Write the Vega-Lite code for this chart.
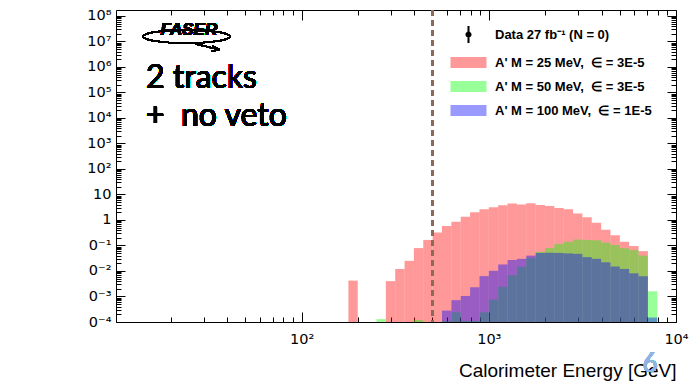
{
  "$schema": "https://vega.github.io/schema/vega-lite/v6.json",
  "width": 560,
  "height": 312,
  "autosize": {"type": "none"},
  "padding": {"left": 116, "top": 10, "right": 16, "bottom": 60},
  "background": "white",
  "config": {
    "view": {"stroke": "black", "strokeWidth": 1},
    "axis": {
      "grid": false,
      "domain": false,
      "tickColor": "black",
      "labelFont": "DejaVu Sans",
      "labelFontSize": 14.5,
      "labelColor": "black",
      "titleFont": "Liberation Sans",
      "titleFontWeight": "normal",
      "titleColor": "black",
      "labelAngle": 0
    }
  },
  "data": {
    "values": [
      {"series": "A' M = 25 MeV,\u00a0 ∈ = 3E-5", "lo": 177.83, "hi": 199.53, "v": 0.0042},
      {"series": "A' M = 25 MeV,\u00a0 ∈ = 3E-5", "lo": 281.84, "hi": 316.23, "v": 0.004},
      {"series": "A' M = 25 MeV,\u00a0 ∈ = 3E-5", "lo": 316.23, "hi": 354.81, "v": 0.012},
      {"series": "A' M = 25 MeV,\u00a0 ∈ = 3E-5", "lo": 354.81, "hi": 398.11, "v": 0.025},
      {"series": "A' M = 25 MeV,\u00a0 ∈ = 3E-5", "lo": 398.11, "hi": 446.68, "v": 0.079},
      {"series": "A' M = 25 MeV,\u00a0 ∈ = 3E-5", "lo": 446.68, "hi": 501.19, "v": 0.165},
      {"series": "A' M = 25 MeV,\u00a0 ∈ = 3E-5", "lo": 501.19, "hi": 562.34, "v": 0.32},
      {"series": "A' M = 25 MeV,\u00a0 ∈ = 3E-5", "lo": 562.34, "hi": 630.96, "v": 0.58},
      {"series": "A' M = 25 MeV,\u00a0 ∈ = 3E-5", "lo": 630.96, "hi": 707.95, "v": 0.85},
      {"series": "A' M = 25 MeV,\u00a0 ∈ = 3E-5", "lo": 707.95, "hi": 794.33, "v": 1.35},
      {"series": "A' M = 25 MeV,\u00a0 ∈ = 3E-5", "lo": 794.33, "hi": 891.25, "v": 2.0},
      {"series": "A' M = 25 MeV,\u00a0 ∈ = 3E-5", "lo": 891.25, "hi": 1000, "v": 2.6},
      {"series": "A' M = 25 MeV,\u00a0 ∈ = 3E-5", "lo": 1000, "hi": 1122.0, "v": 3.15},
      {"series": "A' M = 25 MeV,\u00a0 ∈ = 3E-5", "lo": 1122.0, "hi": 1258.9, "v": 3.8},
      {"series": "A' M = 25 MeV,\u00a0 ∈ = 3E-5", "lo": 1258.9, "hi": 1412.5, "v": 4.4},
      {"series": "A' M = 25 MeV,\u00a0 ∈ = 3E-5", "lo": 1412.5, "hi": 1584.9, "v": 4.0},
      {"series": "A' M = 25 MeV,\u00a0 ∈ = 3E-5", "lo": 1584.9, "hi": 1778.3, "v": 4.5},
      {"series": "A' M = 25 MeV,\u00a0 ∈ = 3E-5", "lo": 1778.3, "hi": 1995.3, "v": 3.9},
      {"series": "A' M = 25 MeV,\u00a0 ∈ = 3E-5", "lo": 1995.3, "hi": 2238.7, "v": 3.5},
      {"series": "A' M = 25 MeV,\u00a0 ∈ = 3E-5", "lo": 2238.7, "hi": 2511.9, "v": 2.95},
      {"series": "A' M = 25 MeV,\u00a0 ∈ = 3E-5", "lo": 2511.9, "hi": 2818.4, "v": 2.6},
      {"series": "A' M = 25 MeV,\u00a0 ∈ = 3E-5", "lo": 2818.4, "hi": 3162.3, "v": 1.8},
      {"series": "A' M = 25 MeV,\u00a0 ∈ = 3E-5", "lo": 3162.3, "hi": 3548.1, "v": 1.27},
      {"series": "A' M = 25 MeV,\u00a0 ∈ = 3E-5", "lo": 3548.1, "hi": 3981.1, "v": 0.78},
      {"series": "A' M = 25 MeV,\u00a0 ∈ = 3E-5", "lo": 3981.1, "hi": 4466.8, "v": 0.41},
      {"series": "A' M = 25 MeV,\u00a0 ∈ = 3E-5", "lo": 4466.8, "hi": 5011.9, "v": 0.25},
      {"series": "A' M = 25 MeV,\u00a0 ∈ = 3E-5", "lo": 5011.9, "hi": 5623.4, "v": 0.14},
      {"series": "A' M = 25 MeV,\u00a0 ∈ = 3E-5", "lo": 5623.4, "hi": 6309.6, "v": 0.095},
      {"series": "A' M = 25 MeV,\u00a0 ∈ = 3E-5", "lo": 6309.6, "hi": 7079.5, "v": 0.06},
      {"series": "A' M = 50 MeV,\u00a0 ∈ = 3E-5", "lo": 251.19, "hi": 281.84, "v": 0.00013},
      {"series": "A' M = 50 MeV,\u00a0 ∈ = 3E-5", "lo": 398.11, "hi": 446.68, "v": 0.00012},
      {"series": "A' M = 50 MeV,\u00a0 ∈ = 3E-5", "lo": 562.34, "hi": 630.96, "v": 0.00011},
      {"series": "A' M = 50 MeV,\u00a0 ∈ = 3E-5", "lo": 630.96, "hi": 707.95, "v": 0.00024},
      {"series": "A' M = 50 MeV,\u00a0 ∈ = 3E-5", "lo": 707.95, "hi": 794.33, "v": 0.00011},
      {"series": "A' M = 50 MeV,\u00a0 ∈ = 3E-5", "lo": 794.33, "hi": 891.25, "v": 0.00011},
      {"series": "A' M = 50 MeV,\u00a0 ∈ = 3E-5", "lo": 891.25, "hi": 1000, "v": 0.00024},
      {"series": "A' M = 50 MeV,\u00a0 ∈ = 3E-5", "lo": 1000, "hi": 1122.0, "v": 0.00075},
      {"series": "A' M = 50 MeV,\u00a0 ∈ = 3E-5", "lo": 1122.0, "hi": 1258.9, "v": 0.0024},
      {"series": "A' M = 50 MeV,\u00a0 ∈ = 3E-5", "lo": 1258.9, "hi": 1412.5, "v": 0.0068},
      {"series": "A' M = 50 MeV,\u00a0 ∈ = 3E-5", "lo": 1412.5, "hi": 1584.9, "v": 0.0145},
      {"series": "A' M = 50 MeV,\u00a0 ∈ = 3E-5", "lo": 1584.9, "hi": 1778.3, "v": 0.032},
      {"series": "A' M = 50 MeV,\u00a0 ∈ = 3E-5", "lo": 1778.3, "hi": 1995.3, "v": 0.056},
      {"series": "A' M = 50 MeV,\u00a0 ∈ = 3E-5", "lo": 1995.3, "hi": 2238.7, "v": 0.079},
      {"series": "A' M = 50 MeV,\u00a0 ∈ = 3E-5", "lo": 2238.7, "hi": 2511.9, "v": 0.115},
      {"series": "A' M = 50 MeV,\u00a0 ∈ = 3E-5", "lo": 2511.9, "hi": 2818.4, "v": 0.14},
      {"series": "A' M = 50 MeV,\u00a0 ∈ = 3E-5", "lo": 2818.4, "hi": 3162.3, "v": 0.17},
      {"series": "A' M = 50 MeV,\u00a0 ∈ = 3E-5", "lo": 3162.3, "hi": 3548.1, "v": 0.165},
      {"series": "A' M = 50 MeV,\u00a0 ∈ = 3E-5", "lo": 3548.1, "hi": 3981.1, "v": 0.16},
      {"series": "A' M = 50 MeV,\u00a0 ∈ = 3E-5", "lo": 3981.1, "hi": 4466.8, "v": 0.13},
      {"series": "A' M = 50 MeV,\u00a0 ∈ = 3E-5", "lo": 4466.8, "hi": 5011.9, "v": 0.105},
      {"series": "A' M = 50 MeV,\u00a0 ∈ = 3E-5", "lo": 5011.9, "hi": 5623.4, "v": 0.078},
      {"series": "A' M = 50 MeV,\u00a0 ∈ = 3E-5", "lo": 5623.4, "hi": 6309.6, "v": 0.066},
      {"series": "A' M = 50 MeV,\u00a0 ∈ = 3E-5", "lo": 6309.6, "hi": 7079.5, "v": 0.04},
      {"series": "A' M = 50 MeV,\u00a0 ∈ = 3E-5", "lo": 7079.5, "hi": 7943.3, "v": 0.0016},
      {"series": "A' M = 100 MeV,\u00a0 ∈ = 1E-5", "lo": 562.34, "hi": 630.96, "v": 0.00028},
      {"series": "A' M = 100 MeV,\u00a0 ∈ = 1E-5", "lo": 630.96, "hi": 707.95, "v": 0.00072},
      {"series": "A' M = 100 MeV,\u00a0 ∈ = 1E-5", "lo": 707.95, "hi": 794.33, "v": 0.00105},
      {"series": "A' M = 100 MeV,\u00a0 ∈ = 1E-5", "lo": 794.33, "hi": 891.25, "v": 0.0023},
      {"series": "A' M = 100 MeV,\u00a0 ∈ = 1E-5", "lo": 891.25, "hi": 1000, "v": 0.0063},
      {"series": "A' M = 100 MeV,\u00a0 ∈ = 1E-5", "lo": 1000, "hi": 1122.0, "v": 0.0102},
      {"series": "A' M = 100 MeV,\u00a0 ∈ = 1E-5", "lo": 1122.0, "hi": 1258.9, "v": 0.018},
      {"series": "A' M = 100 MeV,\u00a0 ∈ = 1E-5", "lo": 1258.9, "hi": 1412.5, "v": 0.027},
      {"series": "A' M = 100 MeV,\u00a0 ∈ = 1E-5", "lo": 1412.5, "hi": 1584.9, "v": 0.030},
      {"series": "A' M = 100 MeV,\u00a0 ∈ = 1E-5", "lo": 1584.9, "hi": 1778.3, "v": 0.040},
      {"series": "A' M = 100 MeV,\u00a0 ∈ = 1E-5", "lo": 1778.3, "hi": 1995.3, "v": 0.051},
      {"series": "A' M = 100 MeV,\u00a0 ∈ = 1E-5", "lo": 1995.3, "hi": 2238.7, "v": 0.052},
      {"series": "A' M = 100 MeV,\u00a0 ∈ = 1E-5", "lo": 2238.7, "hi": 2511.9, "v": 0.051},
      {"series": "A' M = 100 MeV,\u00a0 ∈ = 1E-5", "lo": 2511.9, "hi": 2818.4, "v": 0.049},
      {"series": "A' M = 100 MeV,\u00a0 ∈ = 1E-5", "lo": 2818.4, "hi": 3162.3, "v": 0.047},
      {"series": "A' M = 100 MeV,\u00a0 ∈ = 1E-5", "lo": 3162.3, "hi": 3548.1, "v": 0.035},
      {"series": "A' M = 100 MeV,\u00a0 ∈ = 1E-5", "lo": 3548.1, "hi": 3981.1, "v": 0.030},
      {"series": "A' M = 100 MeV,\u00a0 ∈ = 1E-5", "lo": 3981.1, "hi": 4466.8, "v": 0.022},
      {"series": "A' M = 100 MeV,\u00a0 ∈ = 1E-5", "lo": 4466.8, "hi": 5011.9, "v": 0.015},
      {"series": "A' M = 100 MeV,\u00a0 ∈ = 1E-5", "lo": 5011.9, "hi": 5623.4, "v": 0.012},
      {"series": "A' M = 100 MeV,\u00a0 ∈ = 1E-5", "lo": 5623.4, "hi": 6309.6, "v": 0.0081},
      {"series": "A' M = 100 MeV,\u00a0 ∈ = 1E-5", "lo": 6309.6, "hi": 7079.5, "v": 0.0062},
      {"series": "A' M = 100 MeV,\u00a0 ∈ = 1E-5", "lo": 7079.5, "hi": 7943.3, "v": 0.00015}
    ]
  },
  "layer": [
    {
      "mark": {"type": "bar", "strokeWidth": 0, "clip": true},
      "encoding": {
        "x": {
          "field": "lo",
          "type": "quantitative",
          "scale": {"type": "log", "domain": [10.2, 10000], "nice": false},
          "axis": {
            "orient": "bottom",
            "title": "Calorimeter Energy [GeV]",
            "titleFontSize": 19,
            "titleX": 560,
            "titleY": 54,
            "titleAlign": "right",
            "titleAnchor": null,
            "titleBaseline": "alphabetic",
            "values": [20,30,40,50,60,70,80,90,100,200,300,400,500,600,700,800,900,1000,2000,3000,4000,5000,6000,7000,8000,9000,10000],
            "labelExpr": "datum.value == 100 ? '10²' : datum.value == 1000 ? '10³' : datum.value == 10000 ? '10⁴' : ''",
            "labelPadding": 20,
            "labelFlush": false,
            "labelOverlap": false,
            "tickSize": {"condition": {"test": "datum.value == 100 || datum.value == 1000 || datum.value == 10000", "value": -10}, "value": -5}
          }
        },
        "x2": {"field": "hi"},
        "y": {
          "field": "v",
          "type": "quantitative",
          "scale": {"type": "log", "domain": [0.0001, 170000000], "nice": false},
          "axis": {
            "orient": "left",
            "title": null,
            "values": [0.0001,0.0002,0.0003,0.0004,0.0005,0.0006,0.0007,0.0008,0.0009,0.001,0.002,0.003,0.004,0.005,0.006,0.007,0.008,0.009,0.01,0.02,0.03,0.04,0.05,0.06,0.07,0.08,0.09,0.1,0.2,0.3,0.4,0.5,0.6,0.7,0.8,0.9,1,2,3,4,5,6,7,8,9,10,20,30,40,50,60,70,80,90,100,200,300,400,500,600,700,800,900,1000,2000,3000,4000,5000,6000,7000,8000,9000,10000,20000,30000,40000,50000,60000,70000,80000,90000,100000,200000,300000,400000,500000,600000,700000,800000,900000,1000000,2000000,3000000,4000000,5000000,6000000,7000000,8000000,9000000,10000000,20000000,30000000,40000000,50000000,60000000,70000000,80000000,90000000,100000000],
            "labelExpr": "abs(log(datum.value)/LN10 - round(log(datum.value)/LN10)) < 0.000001 ? ['0⁻⁴','0⁻³','0⁻²','0⁻¹','1','10','10²','10³','10⁴','10⁵','10⁶','10⁷','10⁸'][round(log(datum.value)/LN10)+4] : ''",
            "labelPadding": 14,
            "labelFlush": false,
            "labelOverlap": false,
            "labelBaseline": "middle",
            "tickSize": {"condition": {"test": "abs(log(datum.value)/LN10 - round(log(datum.value)/LN10)) < 0.000001", "value": -9}, "value": -5}
          }
        },
        "y2": {"datum": 0.0001},
        "color": {
          "field": "series",
          "type": "nominal",
          "scale": {
            "domain": ["A' M = 25 MeV,\u00a0 ∈ = 3E-5", "A' M = 50 MeV,\u00a0 ∈ = 3E-5", "A' M = 100 MeV,\u00a0 ∈ = 1E-5"],
            "range": ["rgba(255,0,0,0.4)", "rgba(0,255,0,0.4)", "rgba(0,0,255,0.4)"]
          },
          "legend": {
            "orient": "none",
            "legendX": 341,
            "legendY": 41,
            "title": null,
            "padding": 0,
            "symbolType": "M-1.6,-0.5H1.6V0.5H-1.6Z",
            "symbolSize": 506,
            "symbolStrokeWidth": 0,
            "labelFont": "Liberation Sans",
            "labelFontWeight": "bold",
            "labelFontSize": 13,
            "labelColor": "black",
            "labelOffset": 15,
            "rowPadding": 5,
            "labelLimit": 300
          }
        }
      }
    },
    {
      "transform": [{"filter": "false"}],
      "mark": {"type": "point", "filled": true, "color": "black", "opacity": 1},
      "encoding": {
        "x": {"field": "lo", "type": "quantitative", "axis": null},
        "y": {"field": "v", "type": "quantitative", "axis": null},
        "shape": {
          "field": "datalabel",
          "type": "nominal",
          "scale": {
            "domain": ["Data 27 fb⁻¹ (N = 0)"],
            "range": ["M-0.09,-0.75H0.09V0.75H-0.09ZM0.27,0A0.27,0.27 0 1,1 -0.27,0A0.27,0.27 0 1,1 0.27,0Z"]
          },
          "legend": {
            "orient": "none",
            "legendX": 341,
            "legendY": 13,
            "title": null,
            "padding": 0,
            "symbolSize": 506,
            "symbolStrokeWidth": 0,
            "symbolFillColor": "black",
            "symbolOpacity": 1,
            "labelFont": "Liberation Sans",
            "labelFontWeight": "bold",
            "labelFontSize": 13,
            "labelColor": "black",
            "labelOffset": 15,
            "labelLimit": 300
          }
        }
      }
    },
    {
      "mark": {"type": "rule", "color": "#8c6a58", "strokeDash": [6, 4], "strokeWidth": 2},
      "encoding": {"x": {"datum": 500, "axis": null}}
    },
    {
      "mark": {"type": "text", "text": "FASER", "font": "Liberation Sans", "fontSize": 17, "fontWeight": "bold", "fontStyle": "italic", "align": "center", "baseline": "alphabetic", "color": "black"},
      "encoding": {
        "x": {
          "datum": 25.0,
          "axis": {
            "orient": "top",
            "title": null,
            "labels": false,
            "values": [20,30,40,50,60,70,80,90,100,200,300,400,500,600,700,800,900,1000,2000,3000,4000,5000,6000,7000,8000,9000,10000],
            "tickSize": {"condition": {"test": "datum.value == 100 || datum.value == 1000 || datum.value == 10000", "value": -10}, "value": -5}
          }
        },
        "y": {
          "datum": 17800000,
          "axis": {
            "orient": "right",
            "title": null,
            "labels": false,
            "values": [0.0001,0.0002,0.0003,0.0004,0.0005,0.0006,0.0007,0.0008,0.0009,0.001,0.002,0.003,0.004,0.005,0.006,0.007,0.008,0.009,0.01,0.02,0.03,0.04,0.05,0.06,0.07,0.08,0.09,0.1,0.2,0.3,0.4,0.5,0.6,0.7,0.8,0.9,1,2,3,4,5,6,7,8,9,10,20,30,40,50,60,70,80,90,100,200,300,400,500,600,700,800,900,1000,2000,3000,4000,5000,6000,7000,8000,9000,10000,20000,30000,40000,50000,60000,70000,80000,90000,100000,200000,300000,400000,500000,600000,700000,800000,900000,1000000,2000000,3000000,4000000,5000000,6000000,7000000,8000000,9000000,10000000,20000000,30000000,40000000,50000000,60000000,70000000,80000000,90000000,100000000],
            "tickSize": {"condition": {"test": "abs(log(datum.value)/LN10 - round(log(datum.value)/LN10)) < 0.000001", "value": -9}, "value": -5}
          }
        }
      }
    },
    {
      "mark": {"type": "point", "shape": "M-1,0A1,0.15 0 1,0 1,0A1,0.15 0 1,0 -1,0ZM0.2,0.17L0.75,0.3M0.75,0.3L0.6,0.22M0.75,0.3L0.58,0.34", "size": 7569, "filled": false, "stroke": "black", "strokeWidth": 1.3, "opacity": 1},
      "encoding": {
        "x": {"datum": 24.28, "axis": null},
        "y": {"datum": 15500000, "axis": null}
      }
    },
    {
      "mark": {"type": "text", "text": "2 tracks", "font": "Lato", "fontSize": 32, "align": "left", "baseline": "alphabetic", "color": "black"},
      "encoding": {
        "x": {"datum": 14.76, "axis": null},
        "y": {"datum": 149000, "axis": null}
      }
    },
    {
      "mark": {"type": "text", "text": "+\u00a0 no veto", "font": "Lato", "fontSize": 32, "align": "left", "baseline": "alphabetic", "color": "black"},
      "encoding": {
        "x": {"datum": 14.76, "axis": null},
        "y": {"datum": 4820, "axis": null}
      }
    },
    {
      "mark": {"type": "text", "text": "6", "font": "Lato", "fontSize": 26, "align": "center", "baseline": "alphabetic", "color": "#8db4e2", "opacity": 0.9},
      "encoding": {
        "x": {"datum": 7261, "axis": null},
        "y": {"datum": 0.0000011, "axis": null}
      }
    }
  ],
  "resolve": {"axis": {"x": "independent", "y": "independent"}}
}
